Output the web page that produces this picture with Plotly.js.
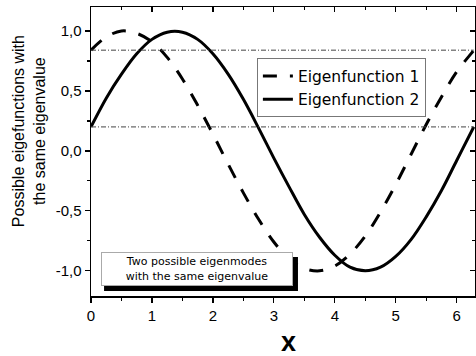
<!DOCTYPE html>
<html><head><meta charset="utf-8">
<script src="https://cdn.plot.ly/plotly-3.0.1.min.js"></script>
<style>html,body{margin:0;padding:0;background:#fff}</style>
</head><body><div id="chart" style="width:476px;height:356px"></div>
<script>
const xVals = [0,0.25,0.5,0.75,1,1.25,1.5,1.75,2,2.25,2.5,2.75,3,3.25,3.5,3.75,4,4.25,4.5,4.75,5,5.25,5.5,5.75,6,6.25,6.28];
const eigen1 = [0.84,0.95,1.00,0.98,0.91,0.78,0.60,0.38,0.14,-0.11,-0.35,-0.57,-0.76,-0.90,-0.98,-1.00,-0.96,-0.86,-0.71,-0.51,-0.28,-0.03,0.22,0.45,0.66,0.82,0.84];
const eigen2 = [0.20,0.44,0.64,0.81,0.93,0.99,0.99,0.93,0.81,0.64,0.43,0.19,-0.06,-0.30,-0.53,-0.72,-0.87,-0.97,-1.00,-0.97,-0.88,-0.74,-0.55,-0.33,-0.08,0.17,0.20];
const refLevels = [0.84, 0.20];
const refX = [0, 6.28];
const seriesNames = ["Eigenfunction 1", "Eigenfunction 2"];
const yTickVals = [-1, -0.5, 0, 0.5, 1];
const yTickText = ["-1,0", "-0,5", "0,0", "0,5", "1,0"];
const xTickVals = [0,1,2,3,4,5,6];
const yTitle = "Possible eigefunctions with<br>the same eigenvalue";
const xTitle = "x";
const noteText = "Two possible eigenmodes<br>with the same eigenvalue";

const traces = [];
refLevels.forEach(v => traces.push({
  x: refX, y: [v, v], xaxis: 'x2', yaxis: 'y2', mode: 'lines', showlegend: false,
  line: {color: '#444', width: 1, dash: '5px,2px,1px,2px'}, hoverinfo: 'skip'
}));
traces.push({x: xVals, y: eigen1, name: seriesNames[0], mode: 'lines',
  line: {color: '#000', width: 3, dash: '14px,13px', shape: 'spline'}});
traces.push({x: xVals, y: eigen2, name: seriesNames[1], mode: 'lines',
  line: {color: '#000', width: 3, shape: 'spline'}});

const tickFont = {family: 'Liberation Sans, Arial, sans-serif', size: 15, color: '#000'};
const layout = {
  width: 476, height: 356,
  margin: {l: 91, r: 1, t: 7, b: 60},
  paper_bgcolor: '#fff', plot_bgcolor: '#fff',
  showlegend: true,
  legend: {x: 0.432, y: 0.822, xanchor: 'left', yanchor: 'top',
    bgcolor: 'rgba(255,255,255,0)', bordercolor: '#777', borderwidth: 1,
    font: {family: 'DejaVu Sans, sans-serif', size: 15.5, color: '#000'},
    itemwidth: 30, tracegroupgap: 0},
  xaxis: {range: [0, 6.3], showgrid: false, zeroline: false, showline: true,
    linecolor: '#000', linewidth: 1.5, ticks: 'outside', ticklen: 5, tickwidth: 1.2,
    tickcolor: '#000', tickmode: 'array', tickvals: xTickVals, tickfont: tickFont,
    minor: {ticks: 'outside', dtick: 0.5, tick0: 0, ticklen: 3, tickcolor: '#000', showgrid: false}},
  yaxis: {range: [-1.21, 1.2], showgrid: false, zeroline: false, showline: true,
    linecolor: '#000', linewidth: 1.5, ticks: 'outside', ticklen: 5, tickwidth: 1.2,
    tickcolor: '#000', tickmode: 'array', tickvals: yTickVals, ticktext: yTickText, tickfont: tickFont,
    minor: {ticks: 'outside', dtick: 0.25, tick0: 0, ticklen: 3, tickcolor: '#000', showgrid: false}},
  xaxis2: {overlaying: 'x', side: 'top', matches: 'x', showgrid: false, zeroline: false,
    showline: true, linecolor: '#000', linewidth: 1.5, ticks: 'inside', ticklen: 5, tickwidth: 1.2,
    tickcolor: '#000', tickmode: 'array', tickvals: xTickVals, showticklabels: false,
    minor: {ticks: 'inside', dtick: 0.5, tick0: 0, ticklen: 3, tickcolor: '#000', showgrid: false}},
  yaxis2: {overlaying: 'y', side: 'right', matches: 'y', showgrid: false, zeroline: false,
    showline: true, linecolor: '#000', linewidth: 1.5, ticks: 'inside', ticklen: 5, tickwidth: 1.2,
    tickcolor: '#000', tickmode: 'array', tickvals: yTickVals, showticklabels: false,
    minor: {ticks: 'inside', dtick: 0.25, tick0: 0, ticklen: 3, tickcolor: '#000', showgrid: false}},
  shapes: [{type: 'rect', xref: 'paper', yref: 'paper', x0: 0.034, x1: 0.539, y0: 0.017, y1: 0.135,
    fillcolor: '#000', line: {width: 0}, layer: 'above'}],
  annotations: [
    {xref: 'paper', yref: 'paper', x: 0.276, y: 0.094, xanchor: 'center', yanchor: 'middle',
      text: noteText, showarrow: false, width: 186, height: 28, align: 'center',
      font: {family: 'DejaVu Sans, sans-serif', size: 11, color: '#000'},
      bgcolor: '#fff', bordercolor: '#aaa', borderwidth: 1, borderpad: 2},
    {xref: 'paper', yref: 'paper', x: -0.161, y: 0.571, xanchor: 'center', yanchor: 'middle',
      text: yTitle, textangle: -90, showarrow: false, align: 'center',
      font: {family: 'Liberation Sans, Arial, sans-serif', size: 16, color: '#000'}},
    {xref: 'paper', yref: 'paper', x: 0.514, y: -0.159, xanchor: 'center', yanchor: 'middle',
      text: '<b>' + xTitle + '</b>', showarrow: false, borderpad: 0,
      font: {family: 'Liberation Sans, Arial, sans-serif', size: 27, color: '#000'}}
  ]
};
Plotly.newPlot('chart', traces, layout, {displayModeBar: false, staticPlot: true});
</script></body></html>
